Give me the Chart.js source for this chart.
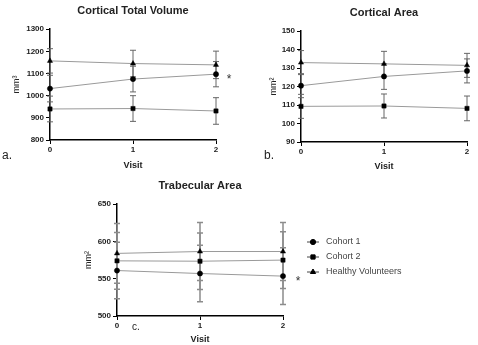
<!DOCTYPE html>
<html>
<head>
<meta charset="utf-8">
<script src="https://cdn.jsdelivr.net/npm/chart.js@4.4.0/dist/chart.umd.min.js"></script>
<style>
  html, body { margin: 0; padding: 0; background: #fff; }
  body { width: 478px; height: 345px; position: relative; overflow: hidden;
         font-family: "Liberation Sans", Arial, sans-serif; }
  canvas { position: absolute; }
  .tag { position: absolute; color: #222; line-height: 1; }
</style>
</head>
<body>
<canvas id="chartVolume"   width="240" height="172" style="left:0;top:0"></canvas>
<canvas id="chartCortArea" width="238" height="172" style="left:240px;top:0"></canvas>
<canvas id="chartTrabArea" width="418" height="173" style="left:60px;top:172px"></canvas>
<span class="tag" style="left:2px;top:149px;font-size:12px">a.</span>
<span class="tag" style="left:264px;top:149px;font-size:12px">b.</span>
<span class="tag" style="left:132px;top:322px;font-size:10px">c.</span>

<script>
// ---- Data ----
const VISITS = [0, 1, 2];
const SERIES = ["Cohort 1", "Cohort 2", "Healthy Volunteers"];

// Cortical total volume (mm³): mean and SD per visit
const VOL_COHORT1    = [1032, 1075, 1097];
const VOL_COHORT1_SD = [60, 58, 57];
const VOL_COHORT2    = [940, 942, 931];
const VOL_COHORT2_SD = [58, 58, 60];
const VOL_HEALTHY    = [1157, 1145, 1139];
const VOL_HEALTHY_SD = [55, 60, 62];
const VOL_TICKS      = [800, 900, 1000, 1100, 1200, 1300];

// Cortical area (mm²)
const CA_COHORT1    = [120.5, 125.5, 128.5];
const CA_COHORT1_SD = [6.5, 7, 6.5];
const CA_COHORT2    = [109.3, 109.5, 108.2];
const CA_COHORT2_SD = [6.5, 6.5, 6.7];
const CA_HEALTHY    = [133, 132.3, 131.5];
const CA_HEALTHY_SD = [6.5, 6.8, 6.5];
const CA_TICKS      = [90, 100, 110, 120, 130, 140, 150];

// Trabecular area (mm²)
const TA_COHORT1    = [561, 557, 553.5];
const TA_COHORT1_SD = [38, 38, 38];
const TA_COHORT2    = [574, 573.5, 575];
const TA_COHORT2_SD = [38, 38, 38];
const TA_HEALTHY    = [584, 586.5, 586.5];
const TA_HEALTHY_SD = [40, 39, 39];
const TA_TICKS      = [500, 550, 600, 650];

const FONT = "'Liberation Sans', Arial, sans-serif";
const POINT_STYLES = ["circle", "rect", "triangle"];
const POINT_RADII = [2.6, 3, 3];

// ---- Plugins ----
// vertical SD whiskers with caps, drawn under the markers
const errorBars = {
  id: 'errorBars',
  beforeDatasetsDraw(chart, args, opts) {
    const { ctx } = chart;
    const yScale = chart.scales.y;
    ctx.save();
    ctx.strokeStyle = opts.color;
    ctx.lineWidth = opts.width;
    chart.data.datasets.forEach((ds, i) => {
      chart.getDatasetMeta(i).data.forEach((pt, j) => {
        const v = ds.data[j].y, e = ds.errors[j];
        const top = yScale.getPixelForValue(v + e);
        const bot = yScale.getPixelForValue(v - e);
        ctx.beginPath();
        ctx.moveTo(pt.x, top); ctx.lineTo(pt.x, bot);
        ctx.moveTo(pt.x - opts.cap, top); ctx.lineTo(pt.x + opts.cap, top);
        ctx.moveTo(pt.x - opts.cap, bot); ctx.lineTo(pt.x + opts.cap, bot);
        ctx.stroke();
      });
    });
    ctx.restore();
  }
};

// significance asterisk beside the last point of a series
const sigMark = {
  id: 'sigMark',
  afterDraw(chart, args, opts) {
    if (!opts.show) return;
    const meta = chart.getDatasetMeta(opts.dataset);
    const last = meta.data[meta.data.length - 1];
    const { ctx } = chart;
    ctx.save();
    ctx.fillStyle = '#333';
    ctx.font = `12px ${FONT}`;
    ctx.textAlign = 'center';
    ctx.textBaseline = 'middle';
    ctx.fillText('*', chart.chartArea.right + opts.dx, last.y + 6);
    ctx.restore();
  }
};

// legend with line + marker, placed to the right of the plot
const sideLegend = {
  id: 'sideLegend',
  afterDraw(chart, args, opts) {
    if (!opts.show) return;
    const { ctx } = chart;
    ctx.save();
    chart.data.datasets.forEach((ds, i) => {
      const y = opts.y + i * opts.gap;
      ctx.strokeStyle = '#444';
      ctx.lineWidth = 1;
      ctx.beginPath();
      ctx.moveTo(opts.x - 6, y); ctx.lineTo(opts.x + 6, y);
      ctx.stroke();
      ctx.fillStyle = '#000';
      ctx.strokeStyle = '#000';
      Chart.helpers.drawPoint(ctx, { pointStyle: ds.pointStyle, radius: ds.pointRadius, rotation: 0, borderWidth: 0.5 }, opts.x, y);
      ctx.fillStyle = '#444';
      ctx.font = `9px ${FONT}`;
      ctx.textAlign = 'left';
      ctx.textBaseline = 'middle';
      ctx.fillText(ds.label, opts.x + 13, y);
    });
    ctx.restore();
  }
};

Chart.register(errorBars, sigMark, sideLegend);

function series(values, sd, idx) {
  return {
    label: SERIES[idx],
    data: VISITS.map((v, i) => ({ x: v, y: values[i] })),
    errors: sd,
    pointStyle: POINT_STYLES[idx],
    pointRadius: POINT_RADII[idx],
    pointBackgroundColor: '#000',
    pointBorderColor: '#000',
    pointBorderWidth: 0.5,
    borderColor: '#9a9a9a',
    borderWidth: 1,
    tension: 0,
    clip: false
  };
}

function makePanel(id, p) {
  return new Chart(document.getElementById(id), {
    type: 'line',
    data: { datasets: p.datasets },
    options: {
      responsive: false,
      animation: false,
      layout: { padding: p.padding },
      plugins: {
        legend: { display: false },
        tooltip: { enabled: false },
        title: {
          display: true, text: p.title, fullSize: false, color: '#222',
          font: { family: FONT, size: 11, weight: 'bold' },
          padding: { top: 0, bottom: p.titleGap }
        },
        errorBars: { color: p.barColor, width: p.barWidth, cap: 3 },
        sigMark: { show: true, dataset: 0, dx: p.starDx },
        sideLegend: p.legend || { show: false }
      },
      scales: {
        x: {
          type: 'linear', min: 0, max: 2,
          afterFit: s => { s.height = p.xHeight; },
          border: { color: '#000', width: 1.5 },
          grid: { drawOnChartArea: false, color: '#000', tickLength: 4 },
          ticks: { stepSize: 1, padding: 1, color: '#222', font: { family: FONT, size: 8, weight: 'bold' } },
          title: { display: true, text: 'Visit', color: '#222', padding: { top: 0, bottom: p.visitGap },
                   font: { family: FONT, size: 9, weight: 'bold' } }
        },
        y: {
          min: p.ticks[0], max: p.ticks[p.ticks.length - 1],
          afterFit: s => { s.width = p.yWidth; },
          border: { color: '#000', width: 1.5 },
          grid: { drawOnChartArea: false, color: '#000', tickLength: 4 },
          ticks: { stepSize: p.ticks[1] - p.ticks[0], padding: 2, color: '#222',
                   callback: v => String(v),
                   font: { family: FONT, size: 8, weight: 'bold' } },
          title: { display: true, text: p.unit, color: '#222', padding: 0,
                   font: { family: FONT, size: 9 } }
        }
      }
    }
  });
}

document.addEventListener('DOMContentLoaded', () => {
  makePanel('chartVolume', {
    title: 'Cortical Total Volume', unit: 'mm³', ticks: VOL_TICKS,
    padding: { left: 11, right: 24, top: 4, bottom: 0 },
    titleGap: 12, yWidth: 39, xHeight: 32, visitGap: 1, starDx: 13,
    barColor: '#666', barWidth: 1,
    datasets: [
      series(VOL_COHORT1, VOL_COHORT1_SD, 0),
      series(VOL_COHORT2, VOL_COHORT2_SD, 1),
      series(VOL_HEALTHY, VOL_HEALTHY_SD, 2)
    ]
  });

  makePanel('chartCortArea', {
    title: 'Cortical Area', unit: 'mm²', ticks: CA_TICKS,
    padding: { left: 28, right: 11, top: 6, bottom: 0 },
    titleGap: 12, yWidth: 33, xHeight: 30, visitGap: 0, starDx: 13,
    barColor: '#666', barWidth: 1,
    datasets: [
      series(CA_COHORT1, CA_COHORT1_SD, 0),
      series(CA_COHORT2, CA_COHORT2_SD, 1),
      series(CA_HEALTHY, CA_HEALTHY_SD, 2)
    ]
  });

  makePanel('chartTrabArea', {
    title: 'Trabecular Area', unit: 'mm²', ticks: TA_TICKS,
    padding: { left: 23, right: 195, top: 7, bottom: 0 },
    titleGap: 12, yWidth: 34, xHeight: 29, visitGap: 0, starDx: 15,
    barColor: '#8c8c8c', barWidth: 1.5,
    legend: { show: true, x: 253, y: 70, gap: 15 },
    datasets: [
      series(TA_COHORT1, TA_COHORT1_SD, 0),
      series(TA_COHORT2, TA_COHORT2_SD, 1),
      series(TA_HEALTHY, TA_HEALTHY_SD, 2)
    ]
  });
});
</script>
</body>
</html>
